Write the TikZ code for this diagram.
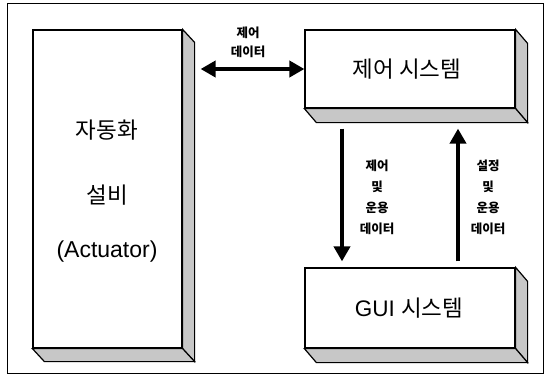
\documentclass[tikz,border=0pt]{standalone}
\usepackage{fontspec}
\setmainfont{Liberation Sans}
\newfontfamily\kr{Noto Sans CJK KR}
\usetikzlibrary{arrows.meta}
\begin{document}
\begin{tikzpicture}[x=1pt,y=-1pt,
  face/.style={draw=black,line width=1.2pt,fill=white,inner sep=0pt},
  side/.style={draw=black,line width=1.2pt,fill=black!22},
  big/.style={font=\fontsize{22.5}{26}\selectfont},
  small/.style={font=\kr\bfseries\fontsize{12.5}{22}\selectfont,align=center},
  flow/.style={line width=4pt,-{Triangle[length=15pt,width=16pt]}},
  flow2/.style={line width=4pt,{Triangle[length=15pt,width=16pt]}-{Triangle[length=15pt,width=16pt]}}]
\useasboundingbox (0,0) rectangle (547,376);
\node[draw=black,line width=0.8pt,minimum width=536pt,minimum height=370pt,inner sep=0pt] (frame) at (275.5,188) {};
% left box
\node[face,minimum width=149pt,minimum height=318pt] (auto) at (107.5,189) {};
\filldraw[side] (auto.north east) -- ++(12,13) -- ([shift={(12,13)}]auto.south east) -- (auto.south east) -- cycle;
\filldraw[side] (auto.south west) -- ++(12,13) -- ([shift={(12,13)}]auto.south east) -- (auto.south east) -- cycle;
\node[big] (t1) at (107,130) {\kr 자동화};
\node[big] (t2) at (107,195) {\kr 설비};
\node[big,font=\fontsize{23}{26}\selectfont] (t3) at (107,252) {(Actuator)};
% control box
\node[face,minimum width=210pt,minimum height=78pt] (ctrl) at (410,69) {};
\filldraw[side] (ctrl.north east) -- ++(12,14) -- ([shift={(12,14)}]ctrl.south east) -- (ctrl.south east) -- cycle;
\filldraw[side] (ctrl.south west) -- ++(12,14) -- ([shift={(12,14)}]ctrl.south east) -- (ctrl.south east) -- cycle;
\node[big] (ct) at ([xshift=-3pt]ctrl.center) {\kr 제어 시스템};
% gui box
\node[face,minimum width=210pt,minimum height=80pt] (gui) at (410,308) {};
\filldraw[side] (gui.north east) -- ++(12,14) -- ([shift={(12,14)}]gui.south east) -- (gui.south east) -- cycle;
\filldraw[side] (gui.south west) -- ++(12,14) -- ([shift={(12,14)}]gui.south east) -- (gui.south east) -- cycle;
\node[big] (gt) at ([xshift=-1pt]gui.center) {GUI {\kr 시스템}};
% arrows
\coordinate (a0) at ([xshift=18pt]auto.east |- ctrl.west);
\draw[flow2] (a0) -- (ctrl.west);
\node[small] (l0) at (248,42) {제어\\[-3pt]데이터};
\coordinate (d0) at ([shift={(-68,20)}]ctrl.south);
\coordinate (d1) at ([shift={(-68,-6)}]gui.north);
\draw[flow] (d0) -- (d1);
\coordinate (u0) at ([shift={(48,-6)}]gui.north);
\coordinate (u1) at ([shift={(48,20)}]ctrl.south);
\draw[flow] (u0) -- (u1);
\node[small] (l1) at (377,197) {제어\\[-1pt]및\\[-1pt]운용\\[-1pt]데이터};
\node[small] (l2) at (488,197) {설정\\[-1pt]및\\[-1pt]운용\\[-1pt]데이터};
\end{tikzpicture}
\end{document}
